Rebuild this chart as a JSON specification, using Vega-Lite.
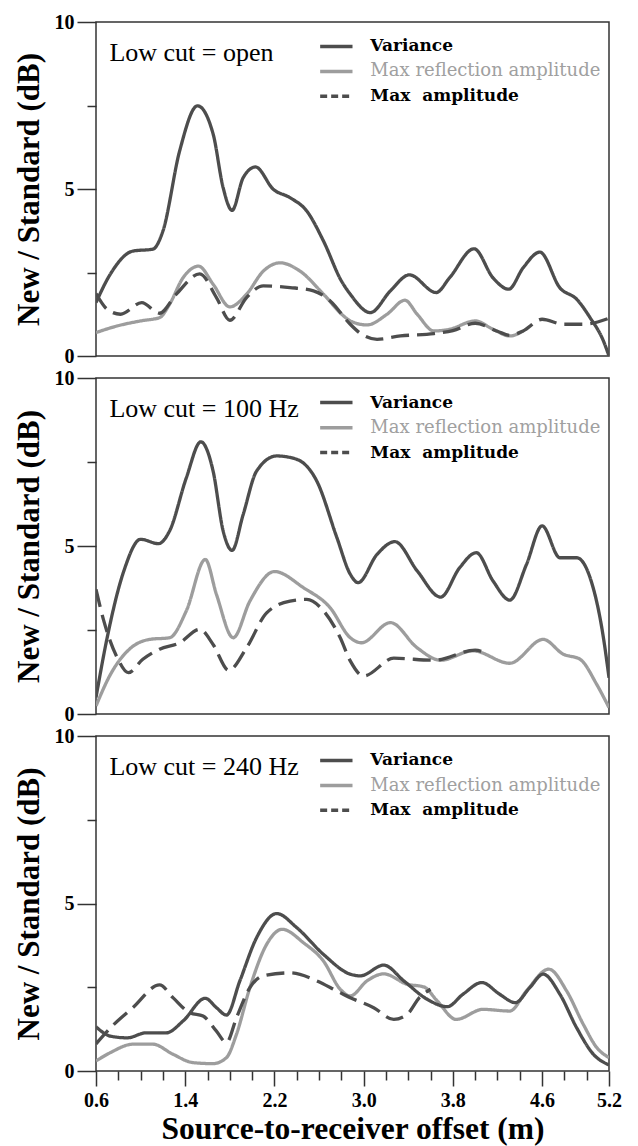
{
  "$schema": "https://vega.github.io/schema/vega-lite/v6.json",
  "padding": {"left": 12, "top": 11, "right": 5, "bottom": 0},
  "spacing": 22,
  "bounds": "flush",
  "datasets": {
    "curves": [
      {"panel":"open","series":"Max reflection amplitude","offset":0.6,"value":0.70},
      {"panel":"open","series":"Max reflection amplitude","offset":0.79,"value":0.90},
      {"panel":"open","series":"Max reflection amplitude","offset":1.0,"value":1.05},
      {"panel":"open","series":"Max reflection amplitude","offset":1.17,"value":1.15},
      {"panel":"open","series":"Max reflection amplitude","offset":1.26,"value":1.55},
      {"panel":"open","series":"Max reflection amplitude","offset":1.38,"value":2.34},
      {"panel":"open","series":"Max reflection amplitude","offset":1.52,"value":2.69},
      {"panel":"open","series":"Max reflection amplitude","offset":1.65,"value":2.15},
      {"panel":"open","series":"Max reflection amplitude","offset":1.8,"value":1.47},
      {"panel":"open","series":"Max reflection amplitude","offset":1.95,"value":1.85},
      {"panel":"open","series":"Max reflection amplitude","offset":2.1,"value":2.54},
      {"panel":"open","series":"Max reflection amplitude","offset":2.25,"value":2.79},
      {"panel":"open","series":"Max reflection amplitude","offset":2.43,"value":2.54},
      {"panel":"open","series":"Max reflection amplitude","offset":2.64,"value":1.85},
      {"panel":"open","series":"Max reflection amplitude","offset":2.82,"value":1.20},
      {"panel":"open","series":"Max reflection amplitude","offset":2.88,"value":1.05},
      {"panel":"open","series":"Max reflection amplitude","offset":3.03,"value":0.93},
      {"panel":"open","series":"Max reflection amplitude","offset":3.21,"value":1.25},
      {"panel":"open","series":"Max reflection amplitude","offset":3.37,"value":1.67},
      {"panel":"open","series":"Max reflection amplitude","offset":3.48,"value":1.25},
      {"panel":"open","series":"Max reflection amplitude","offset":3.63,"value":0.75},
      {"panel":"open","series":"Max reflection amplitude","offset":3.77,"value":0.80},
      {"panel":"open","series":"Max reflection amplitude","offset":4.0,"value":1.05},
      {"panel":"open","series":"Max reflection amplitude","offset":4.16,"value":0.80},
      {"panel":"open","series":"Max reflection amplitude","offset":4.31,"value":0.60},
      {"panel":"open","series":"Max reflection amplitude","offset":4.43,"value":0.75},

      {"panel":"open","series":"Max amplitude","offset":0.6,"value":1.87},
      {"panel":"open","series":"Max amplitude","offset":0.7,"value":1.40},
      {"panel":"open","series":"Max amplitude","offset":0.82,"value":1.25},
      {"panel":"open","series":"Max amplitude","offset":1.01,"value":1.60},
      {"panel":"open","series":"Max amplitude","offset":1.17,"value":1.28},
      {"panel":"open","series":"Max amplitude","offset":1.32,"value":1.85},
      {"panel":"open","series":"Max amplitude","offset":1.53,"value":2.46},
      {"panel":"open","series":"Max amplitude","offset":1.68,"value":1.75},
      {"panel":"open","series":"Max amplitude","offset":1.8,"value":1.07},
      {"panel":"open","series":"Max amplitude","offset":1.95,"value":1.75},
      {"panel":"open","series":"Max amplitude","offset":2.1,"value":2.10},
      {"panel":"open","series":"Max amplitude","offset":2.34,"value":2.05},
      {"panel":"open","series":"Max amplitude","offset":2.55,"value":1.95},
      {"panel":"open","series":"Max amplitude","offset":2.7,"value":1.65},
      {"panel":"open","series":"Max amplitude","offset":2.88,"value":0.95},
      {"panel":"open","series":"Max amplitude","offset":2.97,"value":0.68},
      {"panel":"open","series":"Max amplitude","offset":3.12,"value":0.50},
      {"panel":"open","series":"Max amplitude","offset":3.33,"value":0.60},
      {"panel":"open","series":"Max amplitude","offset":3.63,"value":0.67},
      {"panel":"open","series":"Max amplitude","offset":3.8,"value":0.76},
      {"panel":"open","series":"Max amplitude","offset":4.0,"value":0.98},
      {"panel":"open","series":"Max amplitude","offset":4.2,"value":0.74},
      {"panel":"open","series":"Max amplitude","offset":4.31,"value":0.62},
      {"panel":"open","series":"Max amplitude","offset":4.43,"value":0.75},
      {"panel":"open","series":"Max amplitude","offset":4.6,"value":1.10},
      {"panel":"open","series":"Max amplitude","offset":4.79,"value":0.95},
      {"panel":"open","series":"Max amplitude","offset":4.97,"value":0.95},
      {"panel":"open","series":"Max amplitude","offset":5.2,"value":1.13},

      {"panel":"open","series":"Variance","offset":0.6,"value":1.6},
      {"panel":"open","series":"Variance","offset":0.73,"value":2.46},
      {"panel":"open","series":"Variance","offset":0.93,"value":3.14},
      {"panel":"open","series":"Variance","offset":1.11,"value":3.2},
      {"panel":"open","series":"Variance","offset":1.2,"value":3.74},
      {"panel":"open","series":"Variance","offset":1.35,"value":6.14},
      {"panel":"open","series":"Variance","offset":1.51,"value":7.49},
      {"panel":"open","series":"Variance","offset":1.65,"value":6.65},
      {"panel":"open","series":"Variance","offset":1.74,"value":5.04},
      {"panel":"open","series":"Variance","offset":1.82,"value":4.36},
      {"panel":"open","series":"Variance","offset":1.92,"value":5.34},
      {"panel":"open","series":"Variance","offset":2.03,"value":5.66},
      {"panel":"open","series":"Variance","offset":2.19,"value":4.99},
      {"panel":"open","series":"Variance","offset":2.34,"value":4.74},
      {"panel":"open","series":"Variance","offset":2.49,"value":4.34},
      {"panel":"open","series":"Variance","offset":2.64,"value":3.44},
      {"panel":"open","series":"Variance","offset":2.8,"value":2.25},
      {"panel":"open","series":"Variance","offset":2.88,"value":1.85},
      {"panel":"open","series":"Variance","offset":3.06,"value":1.30},
      {"panel":"open","series":"Variance","offset":3.24,"value":1.95},
      {"panel":"open","series":"Variance","offset":3.41,"value":2.43},
      {"panel":"open","series":"Variance","offset":3.65,"value":1.90},
      {"panel":"open","series":"Variance","offset":3.77,"value":2.34},
      {"panel":"open","series":"Variance","offset":3.99,"value":3.21},
      {"panel":"open","series":"Variance","offset":4.16,"value":2.34},
      {"panel":"open","series":"Variance","offset":4.3,"value":2.0},
      {"panel":"open","series":"Variance","offset":4.43,"value":2.64},
      {"panel":"open","series":"Variance","offset":4.58,"value":3.11},
      {"panel":"open","series":"Variance","offset":4.76,"value":2.04},
      {"panel":"open","series":"Variance","offset":4.91,"value":1.70},
      {"panel":"open","series":"Variance","offset":5.03,"value":1.15},
      {"panel":"open","series":"Variance","offset":5.15,"value":0.45},
      {"panel":"open","series":"Variance","offset":5.2,"value":0.0},

      {"panel":"100","series":"Max reflection amplitude","offset":0.6,"value":0.24},
      {"panel":"100","series":"Max reflection amplitude","offset":0.73,"value":1.18},
      {"panel":"100","series":"Max reflection amplitude","offset":0.9,"value":1.93},
      {"panel":"100","series":"Max reflection amplitude","offset":1.08,"value":2.22},
      {"panel":"100","series":"Max reflection amplitude","offset":1.26,"value":2.27},
      {"panel":"100","series":"Max reflection amplitude","offset":1.41,"value":3.07},
      {"panel":"100","series":"Max reflection amplitude","offset":1.58,"value":4.60},
      {"panel":"100","series":"Max reflection amplitude","offset":1.68,"value":3.56},
      {"panel":"100","series":"Max reflection amplitude","offset":1.83,"value":2.27},
      {"panel":"100","series":"Max reflection amplitude","offset":1.98,"value":3.36},
      {"panel":"100","series":"Max reflection amplitude","offset":2.2,"value":4.24},
      {"panel":"100","series":"Max reflection amplitude","offset":2.46,"value":3.76},
      {"panel":"100","series":"Max reflection amplitude","offset":2.7,"value":3.16},
      {"panel":"100","series":"Max reflection amplitude","offset":2.88,"value":2.27},
      {"panel":"100","series":"Max reflection amplitude","offset":2.98,"value":2.12},
      {"panel":"100","series":"Max reflection amplitude","offset":3.24,"value":2.72},
      {"panel":"100","series":"Max reflection amplitude","offset":3.48,"value":1.97},
      {"panel":"100","series":"Max reflection amplitude","offset":3.69,"value":1.60},
      {"panel":"100","series":"Max reflection amplitude","offset":3.98,"value":1.88},
      {"panel":"100","series":"Max reflection amplitude","offset":4.31,"value":1.51},
      {"panel":"100","series":"Max reflection amplitude","offset":4.61,"value":2.22},
      {"panel":"100","series":"Max reflection amplitude","offset":4.79,"value":1.78},
      {"panel":"100","series":"Max reflection amplitude","offset":4.94,"value":1.63},
      {"panel":"100","series":"Max reflection amplitude","offset":5.09,"value":0.88},
      {"panel":"100","series":"Max reflection amplitude","offset":5.2,"value":0.19},

      {"panel":"100","series":"Max amplitude","offset":0.6,"value":3.71},
      {"panel":"100","series":"Max amplitude","offset":0.67,"value":2.77},
      {"panel":"100","series":"Max amplitude","offset":0.79,"value":1.68},
      {"panel":"100","series":"Max amplitude","offset":0.89,"value":1.23},
      {"panel":"100","series":"Max amplitude","offset":1.02,"value":1.63},
      {"panel":"100","series":"Max amplitude","offset":1.17,"value":1.93},
      {"panel":"100","series":"Max amplitude","offset":1.35,"value":2.12},
      {"panel":"100","series":"Max amplitude","offset":1.53,"value":2.52},
      {"panel":"100","series":"Max amplitude","offset":1.65,"value":2.07},
      {"panel":"100","series":"Max amplitude","offset":1.79,"value":1.30},
      {"panel":"100","series":"Max amplitude","offset":1.95,"value":1.97},
      {"panel":"100","series":"Max amplitude","offset":2.13,"value":3.01},
      {"panel":"100","series":"Max amplitude","offset":2.34,"value":3.36},
      {"panel":"100","series":"Max amplitude","offset":2.49,"value":3.41},
      {"panel":"100","series":"Max amplitude","offset":2.64,"value":3.07},
      {"panel":"100","series":"Max amplitude","offset":2.79,"value":2.27},
      {"panel":"100","series":"Max amplitude","offset":2.88,"value":1.58},
      {"panel":"100","series":"Max amplitude","offset":3.0,"value":1.13},
      {"panel":"100","series":"Max amplitude","offset":3.27,"value":1.66},
      {"panel":"100","series":"Max amplitude","offset":3.63,"value":1.60},
      {"panel":"100","series":"Max amplitude","offset":4.0,"value":1.90},
      {"panel":"100","series":"Max amplitude","offset":4.1,"value":1.80},

      {"panel":"100","series":"Variance","offset":0.6,"value":0.49},
      {"panel":"100","series":"Variance","offset":0.7,"value":2.27},
      {"panel":"100","series":"Variance","offset":0.85,"value":4.26},
      {"panel":"100","series":"Variance","offset":1.0,"value":5.20},
      {"panel":"100","series":"Variance","offset":1.16,"value":5.07},
      {"panel":"100","series":"Variance","offset":1.26,"value":5.45},
      {"panel":"100","series":"Variance","offset":1.41,"value":7.03},
      {"panel":"100","series":"Variance","offset":1.54,"value":8.10},
      {"panel":"100","series":"Variance","offset":1.65,"value":7.23},
      {"panel":"100","series":"Variance","offset":1.74,"value":5.45},
      {"panel":"100","series":"Variance","offset":1.82,"value":4.87},
      {"panel":"100","series":"Variance","offset":1.92,"value":5.94},
      {"panel":"100","series":"Variance","offset":2.04,"value":7.23},
      {"panel":"100","series":"Variance","offset":2.22,"value":7.68},
      {"panel":"100","series":"Variance","offset":2.4,"value":7.58},
      {"panel":"100","series":"Variance","offset":2.58,"value":6.93},
      {"panel":"100","series":"Variance","offset":2.76,"value":5.25},
      {"panel":"100","series":"Variance","offset":2.88,"value":4.16},
      {"panel":"100","series":"Variance","offset":2.95,"value":3.91},
      {"panel":"100","series":"Variance","offset":3.12,"value":4.75},
      {"panel":"100","series":"Variance","offset":3.28,"value":5.13},
      {"panel":"100","series":"Variance","offset":3.48,"value":4.26},
      {"panel":"100","series":"Variance","offset":3.69,"value":3.48},
      {"panel":"100","series":"Variance","offset":3.86,"value":4.35},
      {"panel":"100","series":"Variance","offset":4.01,"value":4.80},
      {"panel":"100","series":"Variance","offset":4.16,"value":3.96},
      {"panel":"100","series":"Variance","offset":4.31,"value":3.39},
      {"panel":"100","series":"Variance","offset":4.46,"value":4.45},
      {"panel":"100","series":"Variance","offset":4.6,"value":5.60},
      {"panel":"100","series":"Variance","offset":4.76,"value":4.65},
      {"panel":"100","series":"Variance","offset":4.91,"value":4.65},
      {"panel":"100","series":"Variance","offset":5.03,"value":4.06},
      {"panel":"100","series":"Variance","offset":5.15,"value":2.27},
      {"panel":"100","series":"Variance","offset":5.2,"value":1.08},

      {"panel":"240","series":"Max reflection amplitude","offset":0.6,"value":0.30},
      {"panel":"240","series":"Max reflection amplitude","offset":0.73,"value":0.55},
      {"panel":"240","series":"Max reflection amplitude","offset":0.93,"value":0.80},
      {"panel":"240","series":"Max reflection amplitude","offset":1.11,"value":0.80},
      {"panel":"240","series":"Max reflection amplitude","offset":1.29,"value":0.50},
      {"panel":"240","series":"Max reflection amplitude","offset":1.47,"value":0.25},
      {"panel":"240","series":"Max reflection amplitude","offset":1.65,"value":0.22},
      {"panel":"240","series":"Max reflection amplitude","offset":1.77,"value":0.40},
      {"panel":"240","series":"Max reflection amplitude","offset":1.86,"value":1.10},
      {"panel":"240","series":"Max reflection amplitude","offset":1.98,"value":2.49},
      {"panel":"240","series":"Max reflection amplitude","offset":2.13,"value":3.78},
      {"panel":"240","series":"Max reflection amplitude","offset":2.27,"value":4.23},
      {"panel":"240","series":"Max reflection amplitude","offset":2.46,"value":3.83},
      {"panel":"240","series":"Max reflection amplitude","offset":2.64,"value":3.28},
      {"panel":"240","series":"Max reflection amplitude","offset":2.79,"value":2.44},
      {"panel":"240","series":"Max reflection amplitude","offset":2.88,"value":2.24},
      {"panel":"240","series":"Max reflection amplitude","offset":3.03,"value":2.69},
      {"panel":"240","series":"Max reflection amplitude","offset":3.18,"value":2.90},
      {"panel":"240","series":"Max reflection amplitude","offset":3.39,"value":2.59},
      {"panel":"240","series":"Max reflection amplitude","offset":3.54,"value":2.51},
      {"panel":"240","series":"Max reflection amplitude","offset":3.66,"value":2.09},
      {"panel":"240","series":"Max reflection amplitude","offset":3.83,"value":1.54},
      {"panel":"240","series":"Max reflection amplitude","offset":4.07,"value":1.84},
      {"panel":"240","series":"Max reflection amplitude","offset":4.31,"value":1.79},
      {"panel":"240","series":"Max reflection amplitude","offset":4.46,"value":2.39},
      {"panel":"240","series":"Max reflection amplitude","offset":4.66,"value":3.04},
      {"panel":"240","series":"Max reflection amplitude","offset":4.82,"value":2.39},
      {"panel":"240","series":"Max reflection amplitude","offset":4.97,"value":1.39},
      {"panel":"240","series":"Max reflection amplitude","offset":5.09,"value":0.70},
      {"panel":"240","series":"Max reflection amplitude","offset":5.2,"value":0.40},

      {"panel":"240","series":"Max amplitude","offset":0.6,"value":0.81},
      {"panel":"240","series":"Max amplitude","offset":0.73,"value":1.29},
      {"panel":"240","series":"Max amplitude","offset":0.93,"value":1.89},
      {"panel":"240","series":"Max amplitude","offset":1.17,"value":2.57},
      {"panel":"240","series":"Max amplitude","offset":1.29,"value":2.19},
      {"panel":"240","series":"Max amplitude","offset":1.44,"value":1.74},
      {"panel":"240","series":"Max amplitude","offset":1.56,"value":1.64},
      {"panel":"240","series":"Max amplitude","offset":1.68,"value":1.19},
      {"panel":"240","series":"Max amplitude","offset":1.77,"value":0.85},
      {"panel":"240","series":"Max amplitude","offset":1.86,"value":1.59},
      {"panel":"240","series":"Max amplitude","offset":1.98,"value":2.49},
      {"panel":"240","series":"Max amplitude","offset":2.1,"value":2.84},
      {"panel":"240","series":"Max amplitude","offset":2.34,"value":2.93},
      {"panel":"240","series":"Max amplitude","offset":2.58,"value":2.69},
      {"panel":"240","series":"Max amplitude","offset":2.76,"value":2.39},
      {"panel":"240","series":"Max amplitude","offset":2.88,"value":2.19},
      {"panel":"240","series":"Max amplitude","offset":3.09,"value":1.89},
      {"panel":"240","series":"Max amplitude","offset":3.27,"value":1.54},
      {"panel":"240","series":"Max amplitude","offset":3.39,"value":1.69},
      {"panel":"240","series":"Max amplitude","offset":3.5,"value":2.19},
      {"panel":"240","series":"Max amplitude","offset":3.6,"value":2.44},

      {"panel":"240","series":"Variance","offset":0.6,"value":1.32},
      {"panel":"240","series":"Variance","offset":0.73,"value":1.04},
      {"panel":"240","series":"Variance","offset":0.88,"value":0.99},
      {"panel":"240","series":"Variance","offset":1.05,"value":1.14},
      {"panel":"240","series":"Variance","offset":1.23,"value":1.14},
      {"panel":"240","series":"Variance","offset":1.38,"value":1.49},
      {"panel":"240","series":"Variance","offset":1.58,"value":2.17},
      {"panel":"240","series":"Variance","offset":1.68,"value":1.89},
      {"panel":"240","series":"Variance","offset":1.77,"value":1.67},
      {"panel":"240","series":"Variance","offset":1.89,"value":2.69},
      {"panel":"240","series":"Variance","offset":2.04,"value":3.98},
      {"panel":"240","series":"Variance","offset":2.22,"value":4.70},
      {"panel":"240","series":"Variance","offset":2.4,"value":4.28},
      {"panel":"240","series":"Variance","offset":2.64,"value":3.48},
      {"panel":"240","series":"Variance","offset":2.88,"value":2.89},
      {"panel":"240","series":"Variance","offset":2.97,"value":2.84},
      {"panel":"240","series":"Variance","offset":3.18,"value":3.16},
      {"panel":"240","series":"Variance","offset":3.36,"value":2.69},
      {"panel":"240","series":"Variance","offset":3.57,"value":2.14},
      {"panel":"240","series":"Variance","offset":3.75,"value":1.92},
      {"panel":"240","series":"Variance","offset":3.89,"value":2.29},
      {"panel":"240","series":"Variance","offset":4.06,"value":2.64},
      {"panel":"240","series":"Variance","offset":4.22,"value":2.29},
      {"panel":"240","series":"Variance","offset":4.36,"value":2.04},
      {"panel":"240","series":"Variance","offset":4.49,"value":2.49},
      {"panel":"240","series":"Variance","offset":4.61,"value":2.89},
      {"panel":"240","series":"Variance","offset":4.76,"value":2.29},
      {"panel":"240","series":"Variance","offset":4.91,"value":1.29},
      {"panel":"240","series":"Variance","offset":5.06,"value":0.50},
      {"panel":"240","series":"Variance","offset":5.2,"value":0.18}
    ],
    "legend": [
      {"series":"Variance","offset":2.61,"offset2":2.9,"labelAt":3.06,"value":9.27,"label":"Variance"},
      {"series":"Max reflection amplitude","offset":2.61,"offset2":2.9,"labelAt":3.06,"value":8.52,"label":"Max reflection amplitude"},
      {"series":"Max amplitude","offset":2.61,"offset2":2.9,"labelAt":3.06,"value":7.78,"label":"Max\u00a0 amplitude"}
    ],
    "panels": [
      {"panel":"open","offset":0.72,"value":9.08,"label":"Low cut = open"},
      {"panel":"100","offset":0.72,"value":9.08,"label":"Low cut = 100 Hz"},
      {"panel":"240","offset":0.72,"value":9.08,"label":"Low cut = 240 Hz"}
    ]
  },
  "vconcat": [
    {
      "width": 513, "height": 334,
      "encoding": {
        "x": {"field": "offset", "type": "quantitative", "scale": {"domain": [0.6, 5.2], "nice": false, "zero": false}, "axis": null},
        "y": {"field": "value", "type": "quantitative", "scale": {"domain": [0, 10], "nice": false, "zero": false},
          "axis": {"title": "New / Standard (dB)", "values": [0, 2.5, 5, 7.5, 10], "labelExpr": "datum.value % 5 === 0 ? datum.label : ''",
            "tickSize": {"condition": {"test": "datum.value % 5 === 0", "value": 19}, "value": 9}}}
      },
      "layer": [
        {"data": {"name": "curves"}, "transform": [{"filter": "datum.panel === 'open'"}],
          "mark": {"type": "line", "interpolate": "monotone", "strokeWidth": 3.3, "clip": true},
          "encoding": {
            "color": {"field": "series", "type": "nominal", "legend": null, "scale": {"domain": ["Variance", "Max reflection amplitude", "Max amplitude"], "range": ["#4d4d4d", "#9d9d9d", "#4d4d4d"]}},
            "strokeDash": {"field": "series", "type": "nominal", "legend": null, "scale": {"domain": ["Variance", "Max reflection amplitude", "Max amplitude"], "range": [[1, 0], [1, 0], [18, 8]]}}
          }},
        {"data": {"name": "legend"}, "transform": [{"filter": "datum.series !== 'Max amplitude'"}],
          "mark": {"type": "rule", "strokeWidth": 3.5},
          "encoding": {"x2": {"field": "offset2"}, "color": {"field": "series", "type": "nominal", "legend": null}}},
        {"data": {"name": "legend"}, "transform": [{"filter": "datum.series === 'Max amplitude'"}],
          "mark": {"type": "rule", "strokeWidth": 3.5, "strokeDash": [7, 4], "color": "#4d4d4d"},
          "encoding": {"x2": {"field": "offset2"}}},
        {"data": {"name": "legend"}, "transform": [{"filter": "datum.series !== 'Max reflection amplitude'"}],
          "mark": {"type": "text", "align": "left", "baseline": "middle", "font": "DejaVu Serif", "fontSize": 17, "fontWeight": "bold", "color": "#000"},
          "encoding": {"x": {"field": "labelAt", "type": "quantitative"}, "text": {"field": "label"}}},
        {"data": {"name": "legend"}, "transform": [{"filter": "datum.series === 'Max reflection amplitude'"}],
          "mark": {"type": "text", "align": "left", "baseline": "middle", "font": "DejaVu Serif", "fontSize": 18, "color": "#a0a0a0"},
          "encoding": {"x": {"field": "labelAt", "type": "quantitative"}, "text": {"field": "label"}}},
        {"data": {"name": "panels"}, "transform": [{"filter": "datum.panel === 'open'"}],
          "mark": {"type": "text", "align": "left", "baseline": "middle", "font": "Liberation Serif", "fontSize": 26, "color": "#000"},
          "encoding": {"text": {"field": "label"}}}
      ]
    },
    {
      "width": 513, "height": 336,
      "encoding": {
        "x": {"field": "offset", "type": "quantitative", "scale": {"domain": [0.6, 5.2], "nice": false, "zero": false}, "axis": null},
        "y": {"field": "value", "type": "quantitative", "scale": {"domain": [0, 10], "nice": false, "zero": false},
          "axis": {"title": "New / Standard (dB)", "values": [0, 2.5, 5, 7.5, 10], "labelExpr": "datum.value % 5 === 0 ? datum.label : ''",
            "tickSize": {"condition": {"test": "datum.value % 5 === 0", "value": 19}, "value": 9}}}
      },
      "layer": [
        {"data": {"name": "curves"}, "transform": [{"filter": "datum.panel === '100'"}],
          "mark": {"type": "line", "interpolate": "monotone", "strokeWidth": 3.3, "clip": true},
          "encoding": {
            "color": {"field": "series", "type": "nominal", "legend": null, "scale": {"domain": ["Variance", "Max reflection amplitude", "Max amplitude"], "range": ["#4d4d4d", "#9d9d9d", "#4d4d4d"]}},
            "strokeDash": {"field": "series", "type": "nominal", "legend": null, "scale": {"domain": ["Variance", "Max reflection amplitude", "Max amplitude"], "range": [[1, 0], [1, 0], [18, 8]]}}
          }},
        {"data": {"name": "legend"}, "transform": [{"filter": "datum.series !== 'Max amplitude'"}],
          "mark": {"type": "rule", "strokeWidth": 3.5},
          "encoding": {"x2": {"field": "offset2"}, "color": {"field": "series", "type": "nominal", "legend": null}}},
        {"data": {"name": "legend"}, "transform": [{"filter": "datum.series === 'Max amplitude'"}],
          "mark": {"type": "rule", "strokeWidth": 3.5, "strokeDash": [7, 4], "color": "#4d4d4d"},
          "encoding": {"x2": {"field": "offset2"}}},
        {"data": {"name": "legend"}, "transform": [{"filter": "datum.series !== 'Max reflection amplitude'"}],
          "mark": {"type": "text", "align": "left", "baseline": "middle", "font": "DejaVu Serif", "fontSize": 17, "fontWeight": "bold", "color": "#000"},
          "encoding": {"x": {"field": "labelAt", "type": "quantitative"}, "text": {"field": "label"}}},
        {"data": {"name": "legend"}, "transform": [{"filter": "datum.series === 'Max reflection amplitude'"}],
          "mark": {"type": "text", "align": "left", "baseline": "middle", "font": "DejaVu Serif", "fontSize": 18, "color": "#a0a0a0"},
          "encoding": {"x": {"field": "labelAt", "type": "quantitative"}, "text": {"field": "label"}}},
        {"data": {"name": "panels"}, "transform": [{"filter": "datum.panel === '100'"}],
          "mark": {"type": "text", "align": "left", "baseline": "middle", "font": "Liberation Serif", "fontSize": 26, "color": "#000"},
          "encoding": {"text": {"field": "label"}}}
      ]
    },
    {
      "width": 513, "height": 335,
      "encoding": {
        "x": {"field": "offset", "type": "quantitative", "scale": {"domain": [0.6, 5.2], "nice": false, "zero": false},
          "axis": {"title": "Source-to-receiver offset (m)",
            "values": [0.6, 0.8, 1, 1.2, 1.4, 1.6, 1.8, 2, 2.2, 2.4, 2.6, 2.8, 3, 3.2, 3.4, 3.6, 3.8, 4, 4.2, 4.4, 4.6, 4.8, 5, 5.2],
            "labelExpr": "indexof(['0.6','1.4','2.2','3.0','3.8','4.6','5.2'], format(datum.value, '.1f')) >= 0 ? format(datum.value, '.1f') : ''",
            "tickSize": {"condition": {"test": "indexof(['0.6','1.4','2.2','3.0','3.8','4.6','5.2'], format(datum.value, '.1f')) >= 0", "value": 15}, "value": 9},
            "labelFlush": false, "labelOverlap": false, "labelPadding": 4, "titlePadding": 3, "titleFontSize": 31.5}},
        "y": {"field": "value", "type": "quantitative", "scale": {"domain": [0, 10], "nice": false, "zero": false},
          "axis": {"title": "New / Standard (dB)", "values": [0, 2.5, 5, 7.5, 10], "labelExpr": "datum.value % 5 === 0 ? datum.label : ''",
            "tickSize": {"condition": {"test": "datum.value % 5 === 0", "value": 19}, "value": 9}}}
      },
      "layer": [
        {"data": {"name": "curves"}, "transform": [{"filter": "datum.panel === '240'"}],
          "mark": {"type": "line", "interpolate": "monotone", "strokeWidth": 3.3, "clip": true},
          "encoding": {
            "color": {"field": "series", "type": "nominal", "legend": null, "scale": {"domain": ["Variance", "Max reflection amplitude", "Max amplitude"], "range": ["#4d4d4d", "#9d9d9d", "#4d4d4d"]}},
            "strokeDash": {"field": "series", "type": "nominal", "legend": null, "scale": {"domain": ["Variance", "Max reflection amplitude", "Max amplitude"], "range": [[1, 0], [1, 0], [18, 8]]}}
          }},
        {"data": {"name": "legend"}, "transform": [{"filter": "datum.series !== 'Max amplitude'"}],
          "mark": {"type": "rule", "strokeWidth": 3.5},
          "encoding": {"x2": {"field": "offset2"}, "color": {"field": "series", "type": "nominal", "legend": null}}},
        {"data": {"name": "legend"}, "transform": [{"filter": "datum.series === 'Max amplitude'"}],
          "mark": {"type": "rule", "strokeWidth": 3.5, "strokeDash": [7, 4], "color": "#4d4d4d"},
          "encoding": {"x2": {"field": "offset2"}}},
        {"data": {"name": "legend"}, "transform": [{"filter": "datum.series !== 'Max reflection amplitude'"}],
          "mark": {"type": "text", "align": "left", "baseline": "middle", "font": "DejaVu Serif", "fontSize": 17, "fontWeight": "bold", "color": "#000"},
          "encoding": {"x": {"field": "labelAt", "type": "quantitative"}, "text": {"field": "label"}}},
        {"data": {"name": "legend"}, "transform": [{"filter": "datum.series === 'Max reflection amplitude'"}],
          "mark": {"type": "text", "align": "left", "baseline": "middle", "font": "DejaVu Serif", "fontSize": 18, "color": "#a0a0a0"},
          "encoding": {"x": {"field": "labelAt", "type": "quantitative"}, "text": {"field": "label"}}},
        {"data": {"name": "panels"}, "transform": [{"filter": "datum.panel === '240'"}],
          "mark": {"type": "text", "align": "left", "baseline": "middle", "font": "Liberation Serif", "fontSize": 26, "color": "#000"},
          "encoding": {"text": {"field": "label"}}}
      ]
    }
  ],
  "config": {
    "font": "Liberation Serif",
    "view": {"stroke": "#333", "strokeWidth": 1.5},
    "axis": {
      "grid": false, "domain": false,
      "tickColor": "#333", "tickWidth": 1.5,
      "labelFont": "Liberation Serif", "labelFontSize": 20, "labelFontWeight": "bold", "labelColor": "#000", "labelPadding": 3,
      "titleFont": "Liberation Serif", "titleFontSize": 31, "titleFontWeight": "bold", "titleColor": "#000", "titlePadding": 9
    }
  }
}
